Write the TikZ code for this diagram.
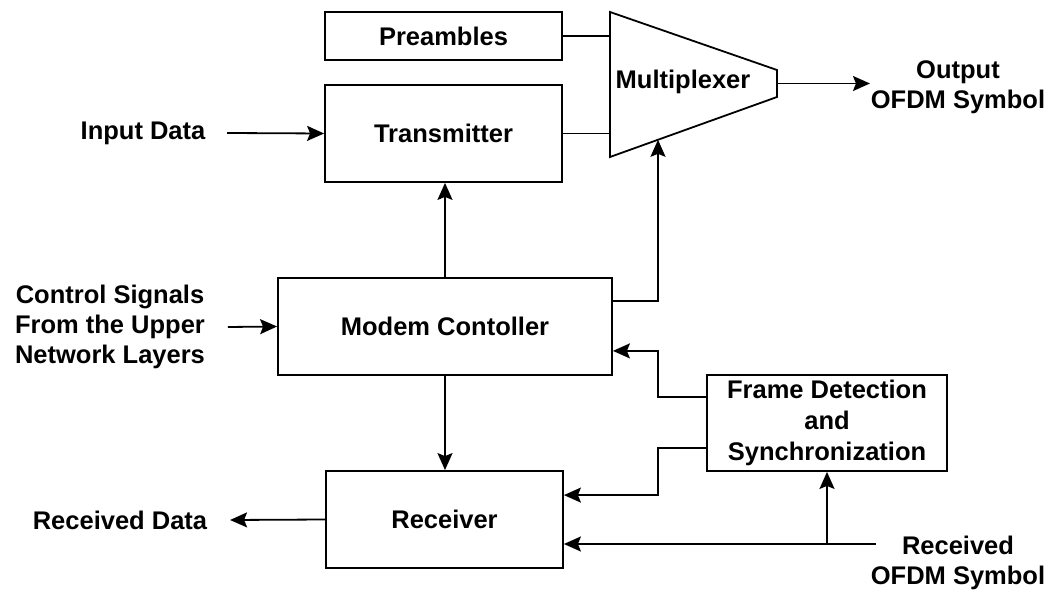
\documentclass[tikz,border=0pt]{standalone}
\usepackage{fontspec}
\setmainfont{Liberation Sans}
\usetikzlibrary{arrows.meta,calc}
\begin{document}
\begin{tikzpicture}[x=1pt,y=-1pt,
  line width=1.8pt,
  every node/.style={font=\fontsize{25.5}{31}\selectfont\bfseries},
  block/.style={draw,rectangle,inner sep=0pt,align=center},
  label/.style={inner sep=0pt,align=center},
  arr/.style={-{Stealth[length=17pt,width=15pt,inset=3pt]}},
  wire/.style={-}]
\useasboundingbox (0,0) rectangle (1057,593);

% blocks
\node[block,minimum width=237pt,minimum height=48pt] (pre) at (443.5,36) {Preambles};
\node[block,minimum width=237pt,minimum height=97pt] (tx) at (443.5,133.5) {Transmitter};
\node[block,minimum width=334pt,minimum height=97pt] (modem) at (445,326.5) {Modem Contoller};
\node[block,minimum width=237pt,minimum height=97pt] (rx) at (444.5,519.5) {Receiver};
\node[block,minimum width=240pt,minimum height=96pt] (fd) at (827,423)
  {Frame Detection\\and\\Synchronization};

% multiplexer outline
\coordinate (m1) at (610,12);
\coordinate (m2) at (777,70);
\coordinate (m3) at (777,97);
\coordinate (m4) at (610,157);
\draw (m1) -- (m2) -- (m3) -- (m4) -- cycle;
\node[label] (mux) at (683,82) {Multiplexer};
\coordinate (muxout) at ($(m2)!0.5!(m3)$);
\coordinate (muxctl) at (658,139.8);

% outer labels
\node[label] (indata) at (143,133) {Input Data};
\node[label,font=\fontsize{25.5}{30}\selectfont\bfseries] (ctrl) at (110,327)
  {Control Signals\\From the Upper\\Network Layers};
\node[label] (rxdata) at (120,520) {Received Data};
\node[label,font=\fontsize{25.5}{30}\selectfont\bfseries] (outsym) at (958,87)
  {Output\\OFDM Symbol};
\node[label,font=\fontsize{25.5}{30}\selectfont\bfseries] (insym) at (958,563)
  {Received\\OFDM Symbol};
\coordinate (rxin) at (876,544);

% connectors
\draw[arr] ([xshift=21pt]indata.east) -- (tx.west);
\draw[arr] ([xshift=22pt]ctrl.east) -- (modem.west);
\draw[arr] (rx.west) -- ([xshift=22pt]rxdata.east);
\draw[wire] (pre.east) -- (pre.east -| m1);
\draw[wire] (tx.east) -- (tx.east -| m1);
\draw[arr] (muxout) -- (muxout -| outsym.west);
\draw[arr] (modem.north) -- (modem.north |- tx.south);
\draw[arr] (modem.south) -- (modem.south |- rx.north);
\draw[arr] ([yshift=-24pt]modem.north east) -| (muxctl);
\draw[arr] ([yshift=-23pt]fd.north west) -- ++(-48,0) |- ([yshift=25pt]modem.south east);
\draw[arr] ([yshift=24pt]fd.south west) -- ++(-48,0) |- ([yshift=-25pt]rx.north east);
\draw[arr] (rxin) -- (rxin -| rx.east);
\draw[arr] (rxin -| fd.south) -- (fd.south);
\end{tikzpicture}
\end{document}
